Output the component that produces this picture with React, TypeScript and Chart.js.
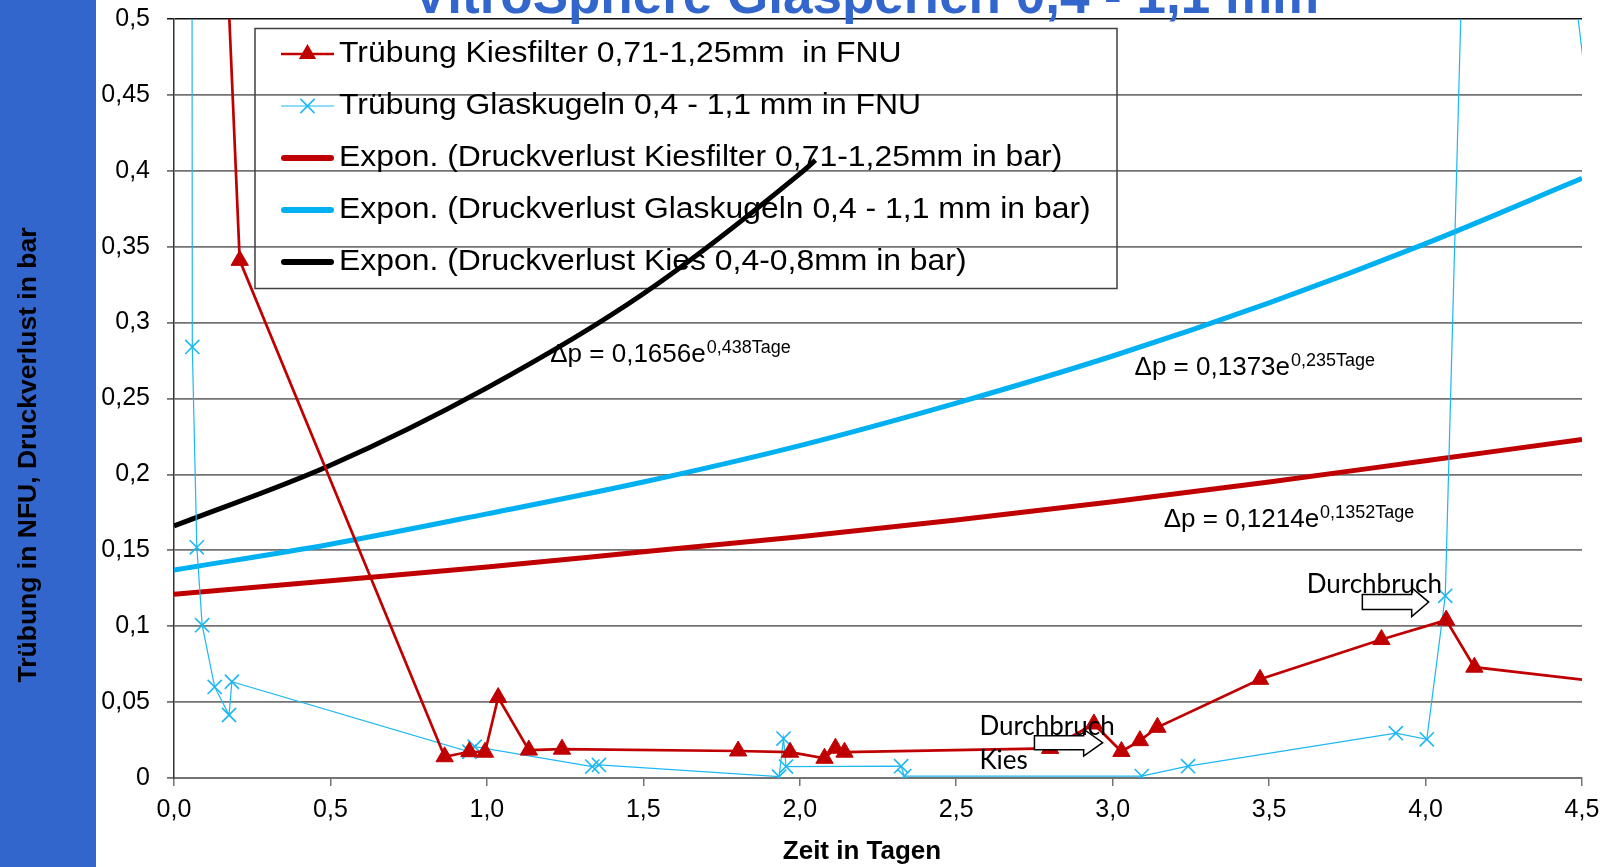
import React, { useEffect, useRef } from "react";
import { Chart, registerables } from "chart.js";

Chart.register(...registerables);

// ---------- data ----------
const xTickLabels = ["0,0", "0,5", "1,0", "1,5", "2,0", "2,5", "3,0", "3,5", "4,0", "4,5"];
const yTickLabels = ["0", "0,05", "0,1", "0,15", "0,2", "0,25", "0,3", "0,35", "0,4", "0,45", "0,5"];

const seriesLabels = [
  "Trübung Kiesfilter 0,71-1,25mm  in FNU",
  "Trübung Glaskugeln 0,4 - 1,1 mm in FNU",
  "Expon. (Druckverlust Kiesfilter 0,71-1,25mm in bar)",
  "Expon. (Druckverlust Glaskugeln 0,4 - 1,1 mm in bar)",
  "Expon. (Druckverlust Kies 0,4-0,8mm in bar)",
];

// Trübung Kiesfilter (FNU)
const kiesTage = [0.10, 0.21, 0.865, 0.944, 0.994, 1.036, 1.134, 1.24, 1.803, 1.969, 2.079, 2.114, 2.143, 2.80, 2.94, 3.028, 3.087, 3.143, 3.471, 3.859, 4.066, 4.156, 4.7];
const kiesFNU = [0.87, 0.341, 0.014, 0.0173, 0.017, 0.053, 0.0184, 0.019, 0.0178, 0.017, 0.013, 0.0196, 0.017, 0.0195, 0.0356, 0.0175, 0.0246, 0.0334, 0.065, 0.0912, 0.104, 0.073, 0.060];

// Trübung Glaskugeln (FNU)
const glasTage = [0.056, 0.0585, 0.073, 0.090, 0.130, 0.176, 0.185, 0.944, 0.961, 1.337, 1.358, 1.934, 1.948, 1.956, 2.324, 2.334, 3.093, 3.241, 3.905, 4.004, 4.063, 4.18, 4.6];
const glasFNU = [1.0, 0.284, 0.152, 0.1007, 0.060, 0.0415, 0.0634, 0.0173, 0.0206, 0.0075, 0.0086, 0.0009, 0.026, 0.0075, 0.0078, 0.0013, 0.0013, 0.0078, 0.0295, 0.0255, 0.120, 1.02, 0.31];

// Trend curves (Druckverlust, bar)
const trendTage = [0, 0.5, 1, 1.5, 2, 2.5, 3, 3.5, 4, 4.5];
const trendKiesfilter = [0.121, 0.130, 0.139, 0.149, 0.159, 0.170, 0.182, 0.195, 0.209, 0.223];
const trendGlaskugeln = [0.137, 0.154, 0.174, 0.195, 0.219, 0.247, 0.278, 0.313, 0.352, 0.395];
const trendKiesTage = [0, 0.5, 1, 1.5, 2, 2.05];
const trendKies = [0.166, 0.206, 0.257, 0.319, 0.398, 0.407];

// annotation texts and their anchors (in data units)
const formulaMain = ["Δp = 0,1656e", "Δp = 0,1373e", "Δp = 0,1214e"];
const formulaSup = ["0,438Tage", "0,235Tage", "0,1352Tage"];
const formulaTage = [1.2025, 3.07, 3.163];
const formulaWert = [0.274, 0.2653, 0.1656];

const noteTexts = ["Durchbruch", "Kies", "Durchbruch"];
const noteTage = [2.574, 2.574, 3.62];
const noteWert = [0.0283, 0.0059, 0.1219];

const arrowFrom = [2.75, 3.798];
const arrowTo = [2.968, 4.01];
const arrowWert = [0.0233, 0.1159];

const titleText = "VitroSphere Glasperlen 0,4 - 1,1 mm";
const yTitle = "Trübung in NFU, Druckverlust in bar";
const xTitle = "Zeit in Tagen";

// ---------- styles ----------
const FONT = "'Liberation Sans', Arial, Helvetica, sans-serif";
const RED = "#C00000";
const CYAN = "#00B0F0";
const CYAN_THIN = "#1DB8F2";
const BLUE = "#3366CC";
const GRID = "#737373";

const toPts = (xs: number[], ys: number[]) => xs.map((x, i) => ({ x, y: ys[i] }));

function drawArrow(ctx: CanvasRenderingContext2D, x0: number, x1: number, yc: number, bh: number, hh: number, hl: number) {
  ctx.beginPath();
  ctx.moveTo(x0, yc - bh);
  ctx.lineTo(x1 - hl, yc - bh);
  ctx.lineTo(x1 - hl, yc - hh);
  ctx.lineTo(x1, yc);
  ctx.lineTo(x1 - hl, yc + hh);
  ctx.lineTo(x1 - hl, yc + bh);
  ctx.lineTo(x0, yc + bh);
  ctx.closePath();
  ctx.fillStyle = "#ffffff";
  ctx.fill();
  ctx.strokeStyle = "#000000";
  ctx.lineWidth = 1.5;
  ctx.stroke();
}

function drawMarker(ctx: CanvasRenderingContext2D, style: string, x: number, y: number, r: number, color: string) {
  ctx.save();
  if (style === "triangle") {
    ctx.beginPath();
    ctx.moveTo(x, y - r);
    ctx.lineTo(x + r * 0.866, y + r * 0.5);
    ctx.lineTo(x - r * 0.866, y + r * 0.5);
    ctx.closePath();
    ctx.fillStyle = color;
    ctx.fill();
  } else if (style === "crossRot") {
    const d = r * 0.7071;
    ctx.beginPath();
    ctx.moveTo(x - d, y - d);
    ctx.lineTo(x + d, y + d);
    ctx.moveTo(x - d, y + d);
    ctx.lineTo(x + d, y - d);
    ctx.strokeStyle = color;
    ctx.lineWidth = 1.6;
    ctx.stroke();
  }
  ctx.restore();
}

const decoPlugin = {
  id: "deco",
  beforeDraw(chart: any) {
    const ctx = chart.ctx as CanvasRenderingContext2D;
    ctx.save();
    ctx.fillStyle = BLUE;
    ctx.fillRect(0, 0, 96, chart.height);
    ctx.restore();
  },
  beforeDatasetsDraw(chart: any) {
    const ctx = chart.ctx as CanvasRenderingContext2D;
    ctx.save();
    // legend frame
    ctx.strokeStyle = "#404040";
    ctx.lineWidth = 1.5;
    ctx.strokeRect(255, 28.5, 862, 260);
    const rowY0 = 54;
    const rowH = 52;
    chart.data.datasets.forEach((ds: any, i: number) => {
      const y = rowY0 + i * rowH;
      const thick = ds.borderWidth >= 4;
      ctx.beginPath();
      ctx.moveTo(thick ? 284 : 281, y);
      ctx.lineTo(thick ? 331 : 334, y);
      ctx.strokeStyle = ds.borderColor;
      ctx.lineWidth = thick ? 6 : ds.borderWidth;
      ctx.lineCap = thick ? "round" : "butt";
      ctx.stroke();
      if (ds.pointRadius > 0) {
        drawMarker(ctx, ds.pointStyle, 307.5, y, ds.pointRadius, ds.borderColor);
      }
      ctx.fillStyle = "#000";
      ctx.font = `29px ${FONT}`;
      ctx.textBaseline = "middle";
      ctx.textAlign = "left";
      ctx.save();
      ctx.translate(339, y);
      ctx.scale(1.1, 1);
      ctx.fillText(ds.label, 0, 0);
      ctx.restore();
    });
    ctx.restore();
  },
  afterDatasetsDraw(chart: any) {
    const ctx = chart.ctx as CanvasRenderingContext2D;
    const xs = chart.scales.x;
    const ys = chart.scales.y;
    ctx.save();
    // arrows
    drawArrow(ctx, xs.getPixelForValue(arrowFrom[0]), xs.getPixelForValue(arrowTo[0]), ys.getPixelForValue(arrowWert[0]), 7, 13.5, 19);
    drawArrow(ctx, xs.getPixelForValue(arrowFrom[1]), xs.getPixelForValue(arrowTo[1]), ys.getPixelForValue(arrowWert[1]), 7.5, 14.5, 17);
    // formulas
    ctx.fillStyle = "#000";
    ctx.textAlign = "left";
    ctx.textBaseline = "alphabetic";
    formulaMain.forEach((t, i) => {
      const x = xs.getPixelForValue(formulaTage[i]);
      const y = ys.getPixelForValue(formulaWert[i]);
      ctx.font = `26px ${FONT}`;
      ctx.fillText(t, x, y);
      const w = ctx.measureText(t).width;
      ctx.font = `18px ${FONT}`;
      ctx.fillText(formulaSup[i], x + w + 1, y - 9);
    });
    // notes
    ctx.font = `26px Lato, 'Open Sans', sans-serif`;
    noteTexts.forEach((t, i) => {
      ctx.fillText(t, xs.getPixelForValue(noteTage[i]), ys.getPixelForValue(noteWert[i]));
    });
    ctx.restore();
  },
  afterDraw(chart: any) {
    const ctx = chart.ctx as CanvasRenderingContext2D;
    ctx.save();
    // title (cut off by the top edge)
    ctx.fillStyle = BLUE;
    ctx.font = `bold 53px ${FONT}`;
    ctx.textAlign = "center";
    ctx.textBaseline = "alphabetic";
    ctx.fillText(titleText, 866, 13);
    // axis titles
    ctx.fillStyle = "#000";
    ctx.font = `bold 26px ${FONT}`;
    ctx.textBaseline = "middle";
    ctx.fillText(xTitle, 862, 852);
    ctx.save();
    ctx.translate(29, 455);
    ctx.rotate(-Math.PI / 2);
    ctx.font = `bold 26.5px ${FONT}`;
    ctx.fillText(yTitle, 0, 0);
    ctx.restore();
    ctx.restore();
  },
};

export default function App() {
  const ref = useRef<HTMLCanvasElement | null>(null);

  useEffect(() => {
    if (!ref.current) return;
    const chart = new Chart(ref.current, {
      type: "line",
      data: {
        datasets: [
          {
            label: seriesLabels[0],
            data: toPts(kiesTage, kiesFNU),
            borderColor: RED,
            backgroundColor: RED,
            borderWidth: 2.7,
            pointStyle: "triangle",
            pointRadius: 10,
            pointBorderWidth: 1,
            tension: 0,
          },
          {
            label: seriesLabels[1],
            data: toPts(glasTage, glasFNU),
            borderColor: CYAN_THIN,
            backgroundColor: CYAN_THIN,
            borderWidth: 1.2,
            pointStyle: "crossRot",
            pointRadius: 10,
            pointBorderWidth: 1.6,
            tension: 0,
          },
          {
            label: seriesLabels[2],
            data: toPts(trendTage, trendKiesfilter),
            borderColor: RED,
            backgroundColor: RED,
            borderWidth: 5,
            pointRadius: 0,
            cubicInterpolationMode: "monotone",
          },
          {
            label: seriesLabels[3],
            data: toPts(trendTage, trendGlaskugeln),
            borderColor: CYAN,
            backgroundColor: CYAN,
            borderWidth: 5,
            pointRadius: 0,
            cubicInterpolationMode: "monotone",
          },
          {
            label: seriesLabels[4],
            data: toPts(trendKiesTage, trendKies),
            borderColor: "#000000",
            backgroundColor: "#000000",
            borderWidth: 5,
            pointRadius: 0,
            cubicInterpolationMode: "monotone",
          },
        ] as any,
      },
      options: {
        animation: false,
        responsive: false,
        maintainAspectRatio: false,
        devicePixelRatio: 1,
        parsing: false as any,
        layout: { padding: { left: 0, top: 19, right: 30, bottom: 0 } },
        plugins: {
          legend: { display: false },
          title: { display: false },
          tooltip: { enabled: false },
        },
        scales: {
          x: {
            type: "linear",
            min: 0,
            max: 4.5,
            afterFit: (s: any) => {
              s.height = 89;
              s.paddingLeft = 0;
              s.paddingRight = 0;
            },
            ticks: {
              stepSize: 0.5,
              autoSkip: false,
              maxRotation: 0,
              padding: 9,
              color: "#000",
              font: { family: FONT, size: 25 },
              callback: (_v: any, i: number) => xTickLabels[i],
            },
            grid: {
              drawOnChartArea: false,
              drawTicks: true,
              tickLength: 8,
              color: GRID,
              lineWidth: 1.5,
            },
            border: { display: true, color: GRID, width: 2 },
          },
          y: {
            type: "linear",
            min: 0,
            max: 0.5,
            afterFit: (s: any) => {
              s.width = 174;
              s.paddingTop = 0;
              s.paddingBottom = 0;
            },
            ticks: {
              stepSize: 0.05,
              autoSkip: false,
              padding: 17,
              color: "#000",
              font: { family: FONT, size: 25 },
              callback: (_v: any, i: number) => yTickLabels[i],
            },
            grid: {
              drawTicks: true,
              tickLength: 7,
              color: (c: any) => (c.index === 10 ? "#111111" : GRID),
              lineWidth: (c: any) => (c.index === 10 ? 1.5 : 1.8),
            },
            border: { display: true, color: "#333333", width: 1.5 },
          },
        },
      } as any,
      plugins: [decoPlugin],
    });
    return () => chart.destroy();
  }, []);

  return (
    <div style={{ position: "absolute", left: 0, top: 0, width: 1612, height: 867, background: "#fff" }}>
      <canvas ref={ref} width={1612} height={867} style={{ display: "block" }} />
    </div>
  );
}
